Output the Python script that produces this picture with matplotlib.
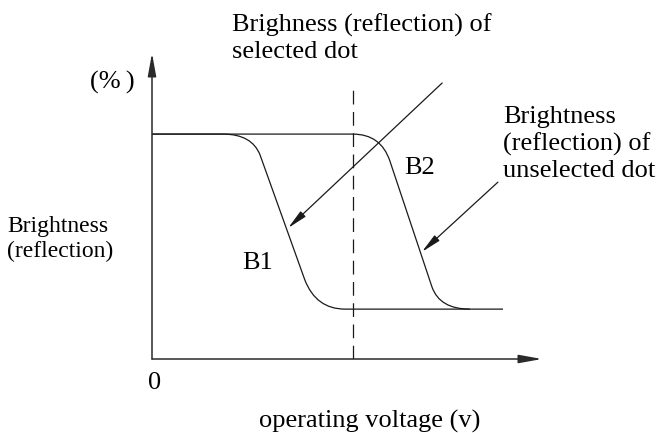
import matplotlib.pyplot as plt
from matplotlib.path import Path
from matplotlib.patches import PathPatch

plt.rcParams['font.family'] = ['Liberation Serif', 'DejaVu Serif']

# curve key points: (voltage, brightness %), corner points act as bezier controls
b1_v = [0, 1.82, 2.56, 2.77, 3.92, 4.21, 4.95, 9.0]
b1_b = [73.5, 73.5, 73.5, 66.7, 25.8, 16.3, 16.3, 16.3]
b2_v = [0, 5.15, 5.87, 6.10, 7.18, 7.38, 8.15]
b2_b = [73.5, 73.5, 73.5, 64.7, 23.5, 16.3, 16.3]
b1_codes = [Path.MOVETO, Path.LINETO, Path.CURVE3, Path.CURVE3,
            Path.LINETO, Path.CURVE3, Path.CURVE3, Path.LINETO]
b2_codes = [Path.MOVETO, Path.LINETO, Path.CURVE3, Path.CURVE3,
            Path.LINETO, Path.CURVE3, Path.CURVE3]

v_dash = 5.15
dash_top = 88.6
sel_arrow = [(7.44, 90.2), (3.49, 42.8)]     # start, tip
unsel_arrow = [(8.87, 57.8), (6.92, 35.0)]

W, H = 658, 433
fig = plt.figure(figsize=(W / 100, H / 100), dpi=100)
# axes box: origin at pixel (152, 359), x to 542, y to 53
ax = fig.add_axes([152 / W, (H - 359) / H, (542 - 152) / W, (359 - 53) / H])
ax.set_xlim(0, 10)
ax.set_ylim(0, 100)
ax.axis('off')

col = '#1a1a1a'
lw = 0.9

for vs, bs, codes in [(b1_v, b1_b, b1_codes), (b2_v, b2_b, b2_codes)]:
    p = Path(list(zip(vs, bs)), codes)
    ax.add_patch(PathPatch(p, fill=False, ec=col, lw=lw, clip_on=False))

ax.plot([v_dash, v_dash], [0, dash_top], color=col, lw=lw, dashes=(11, 6))

# axes with arrow heads
head = dict(arrowstyle='-|>,head_length=1.0,head_width=0.18', color='#2a2a2a',
            lw=1.1, mutation_scale=14, shrinkA=0, shrinkB=0)
ax.annotate('', xy=(0, 100), xytext=(0, 0), arrowprops=head, annotation_clip=False)
ax.annotate('', xy=(10, 0), xytext=(0, 0), arrowprops=head, annotation_clip=False)

ptr = dict(arrowstyle='-|>,head_length=1.2,head_width=0.22', color=col,
           lw=lw, mutation_scale=10, shrinkA=0, shrinkB=0)
for start, tip in [sel_arrow, unsel_arrow]:
    ax.annotate('', xy=tip, xytext=start, arrowprops=ptr, annotation_clip=False)

fs = 19
ax.text(2.72, 31.4, 'B1', fontsize=fs, ha='center', va='center')
ax.text(6.87, 62.4, 'B2', fontsize=fs, ha='center', va='center')


def ftext(x, y, s, size=fs, **kw):
    fig.text(x / W, 1 - y / H, s, fontsize=size, linespacing=1.22, **kw)


ftext(232, 38, 'Brighness (reflection) of\nselected dot', ha='left', va='center')
ftext(503, 144, 'Brightness\n(reflection) of\nunselected dot', ha='left', va='center')
ftext(7, 239, 'Brightness\n(reflection)', size=17, ha='left', va='center')
ftext(112, 82, '(%\u2009)', ha='center', va='center')
ftext(155, 383, '0', ha='center', va='center')
ftext(370, 421, 'operating voltage (v)', ha='center', va='center')

fig.savefig('out.png', dpi=100)
